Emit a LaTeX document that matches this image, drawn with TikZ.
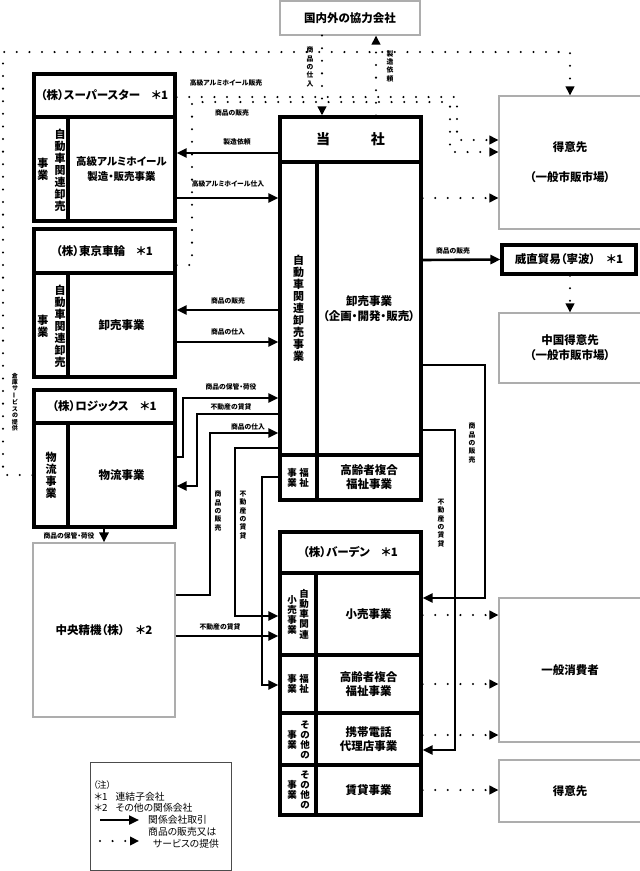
\documentclass[tikz,border=0pt]{standalone}
\usepackage{graphicx}
\usepackage{fontspec}
\setmainfont{Noto Sans CJK JP}[RawFeature=+palt]
\usetikzlibrary{arrows.meta}
\newcommand\mainf{\fontsize{11.5}{14}\selectfont\bfseries}
\newcommand\midf{\fontsize{10.5}{14.5}\selectfont\bfseries}
\newcommand\bigf{\fontsize{14}{16}\selectfont\bfseries}
\newcommand\vtf{\fontsize{11}{12}\selectfont\bfseries}
\newcommand\svtf{\fontsize{9.5}{10.2}\selectfont\bfseries}
\newcommand\lblf{\fontsize{6.8}{8}\selectfont\bfseries}
\newcommand\vlblf{\fontsize{6.8}{8.3}\selectfont\bfseries}
\newcommand\tinyvf{\fontsize{6}{6.4}\selectfont\bfseries}
\newcommand\legf{\fontsize{9.8}{12}\selectfont}
\begin{document}
\begin{tikzpicture}[x=1pt,y=-1pt,
  tbox/.style={draw=black, line width=3.2pt, inner sep=0pt, align=center, font=\mainf},
  gbox/.style={draw=black!32, line width=1.1pt, inner sep=0pt, align=center, font=\mainf},
  conn/.style={draw=black, line width=2.6pt, -{Triangle[length=10pt,width=9pt]}},
  dconn/.style={draw=black, line width=2.3pt, line cap=round, dash pattern=on 0pt off 12.6pt, -{Triangle[length=9pt,width=8.5pt]}},
  lbl/.style={font=\lblf, inner sep=0pt},
  vlbl/.style={font=\vlblf, inner sep=0pt, align=center},
  vt/.style={font=\vtf, inner sep=0pt, align=center},
  svt/.style={font=\svtf, inner sep=0pt, align=center},
  legt/.style={font=\legf, inner sep=0pt, anchor=west},
]
\useasboundingbox (0,0) rectangle (640,871);

% ---------- boxes ----------
\node[gbox, minimum width=140pt, minimum height=34pt] (kyoryoku) at (350,18) {国内外の協力会社};

% Super Star
\node[tbox, minimum width=141pt, minimum height=43pt] (ss_h) at (104.5,95.5) {（株）スーパースター　＊1};
\node[tbox, minimum width=34pt, minimum height=104pt] (ss_l) at (51,169) {};
\node[tbox, minimum width=107pt, minimum height=104pt, font=\midf] (ss_r) at (121.5,169) {高級アルミホイール\\製造・販売事業};
\node[vt] (ss_l1) at (60,170) {自\\動\\車\\関\\連\\卸\\売};
\node[vt] (ss_l2) at (43,169) {事\\業};

% Tokyo Sharin
\node[tbox, minimum width=141pt, minimum height=44pt] (tk_h) at (104.5,251) {（株）東京車輪　＊1};
\node[tbox, minimum width=34pt, minimum height=104pt] (tk_l) at (51,325) {};
\node[tbox, minimum width=107pt, minimum height=104pt] (tk_r) at (121.5,325) {卸売事業};
\node[vt] (tk_l1) at (60,326) {自\\動\\車\\関\\連\\卸\\売};
\node[vt] (tk_l2) at (43,326) {事\\業};

% Logics
\node[tbox, minimum width=141pt, minimum height=33pt] (lg_h) at (104.5,406.5) {（株）ロジックス　＊1};
\node[tbox, minimum width=34pt, minimum height=104pt, font=\vtf] (lg_l) at (51,475) {物\\流\\事\\業};
\node[tbox, minimum width=107pt, minimum height=104pt] (lg_r) at (121.5,475) {物流事業};

% Chuo Seiki
\node[gbox, minimum width=142pt, minimum height=174pt] (chuo) at (104,630) {中央精機（株）　＊2};

% Tousha
\node[tbox, minimum width=141pt, minimum height=45pt, font=\bigf] (ts_h) at (350.5,139.5) {当\hspace{41pt}社};
\node[tbox, minimum width=37pt, minimum height=293pt, font=\vtf] (ts_l) at (298.5,308.5) {自\\動\\車\\関\\連\\卸\\売\\事\\業};
\node[tbox, minimum width=104pt, minimum height=293pt] (ts_r) at (369,308.5) {卸売事業\\[1pt]（企画・開発・販売）};
\node[tbox, minimum width=37pt, minimum height=45pt] (ts_fl) at (298.5,477.5) {};
\node[tbox, minimum width=104pt, minimum height=45pt] (ts_fr) at (369,477.5) {高齢者複合\\福祉事業};
\node[svt] (ts_fl1) at (304,478) {福\\祉};
\node[svt] (ts_fl2) at (292,478) {事\\業};

% Baden
\node[tbox, minimum width=141pt, minimum height=41pt] (bd_h) at (350.5,552.5) {（株）バーデン　＊1};
\node[tbox, minimum width=36pt, minimum height=82pt] (bd1l) at (298,614) {};
\node[tbox, minimum width=105pt, minimum height=82pt] (bd1r) at (368.5,614) {小売事業};
\node[tbox, minimum width=36pt, minimum height=58pt] (bd2l) at (298,684) {};
\node[tbox, minimum width=105pt, minimum height=58pt] (bd2r) at (368.5,684) {高齢者複合\\福祉事業};
\node[tbox, minimum width=36pt, minimum height=52pt] (bd3l) at (298,739) {};
\node[tbox, minimum width=105pt, minimum height=52pt] (bd3r) at (368.5,739) {携帯電話\\代理店事業};
\node[tbox, minimum width=36pt, minimum height=50pt] (bd4l) at (298,790) {};
\node[tbox, minimum width=105pt, minimum height=50pt] (bd4r) at (368.5,790) {賃貸事業};
\node[svt] (bd1l1) at (304,614) {自\\動\\車\\関\\連};
\node[svt] (bd1l2) at (292,615) {小\\売\\事\\業};
\node[svt] (bd2l1) at (304,684) {福\\祉};
\node[svt] (bd2l2) at (292,684) {事\\業};
\node[svt] (bd3l1) at (305,740) {そ\\の\\他\\の};
\node[svt] (bd3l2) at (292,740) {事\\業};
\node[svt] (bd4l1) at (305,790) {そ\\の\\他\\の};
\node[svt] (bd4l2) at (292,790) {事\\業};

% Right side
\node[gbox, minimum width=142pt, minimum height=133pt] (tok1) at (570,162.5) {得意先\\[16pt]（一般市販市場）};
\node[tbox, minimum width=134pt, minimum height=29pt] (ichoku) at (569,259.5) {威直貿易（寧波）　＊1};
\node[gbox, minimum width=142pt, minimum height=70pt] (china) at (570,348) {中国得意先\\[1pt]（一般市販市場）};
\node[gbox, minimum width=142pt, minimum height=144pt] (consumer) at (570,670) {一般消費者};
\node[gbox, minimum width=142pt, minimum height=62pt] (tok2) at (570,791) {得意先};

% ---------- dotted connectors ----------
\draw[dconn] (lg_l.west) -- (3,475) -- (3,52) -- (570,52) -- (tok1.north);
\node[font=\tinyvf, inner sep=0pt, align=center] (souko) at (15,402) {倉\\庫\\サ\\\rotatebox[origin=c]{90}{ー}\\ビ\\ス\\の\\提\\供};
\draw[dconn] (kyoryoku.south -| 322,0) -- (ts_h.north -| 322,0);
\node[vlbl] (l_shiire0) at (310,67) {商\\品\\の\\仕\\入};
\draw[dconn] (ts_h.north -| 376,0) -- (kyoryoku.south -| 376,0);
\node[vlbl] (l_seizo0) at (390,66) {製\\造\\依\\頼};
\draw[dconn] (ss_h.east |- 0,97) -- (457,97) -- (457,140) -- (tok1.west |- 0,140);
\node[lbl] (l_alsale) at (226,83) {高級アルミホイール販売};
\draw[dconn] (tk_h.east |- 0,265) -- (192,265) -- (192,102) -- (450,102) -- (450,152) -- (tok1.west |- 0,152);
\node[lbl] (l_tksale) at (232,113) {商品の販売};
\draw[dconn] (ts_r.east |- 0,198) -- (tok1.west |- 0,198);
\draw[dconn] (ichoku.south -| 570,0) -- (china.north);
\draw[dconn] (bd1r.east |- 0,615) -- (consumer.west |- 0,615);
\draw[dconn] (bd2r.east) -- (consumer.west |- 0,684);
\draw[dconn] (bd3r.east |- 0,735) -- (consumer.west |- 0,735);
\draw[dconn] (bd4r.east) -- (tok2.west |- 0,790);

% ---------- solid connectors ----------
\draw[conn] (ts_h.west |- 0,153) -- (ss_r.east |- 0,153);
\node[lbl] (l_seizo) at (237,142) {製造依頼};
\draw[conn] (ss_r.east |- 0,198) -- (ts_l.west |- 0,198);
\node[lbl] (l_alshiire) at (228,184) {高級アルミホイール仕入};
\draw[conn] (ts_l.west |- 0,310) -- (tk_r.east |- 0,310);
\node[lbl] (l_hanbai1) at (228,301) {商品の販売};
\draw[conn] (tk_r.east |- 0,342) -- (ts_l.west |- 0,342);
\node[lbl] (l_shiire1) at (228,332) {商品の仕入};
\draw[conn] (lg_r.east |- 0,457) -- (183,457) -- (183,398) -- (ts_l.west |- 0,398);
\node[lbl] (l_hokan1) at (231,387) {商品の保管・荷役};
\draw[conn] (ts_l.west |- 0,414) -- (197,414) -- (197,486) -- (lg_r.east |- 0,486);
\node[lbl] (l_fudo1) at (231,407) {不動産の賃貸};
\draw[conn] (chuo.east |- 0,595) -- (210,595) -- (210,433) -- (ts_l.west |- 0,433);
\node[lbl] (l_shiire2) at (248,427) {商品の仕入};
\node[vlbl] (l_hanbai2) at (218,511) {商\\品\\の\\販\\売};
\draw[conn] (ts_l.west |- 0,448) -- (235,448) -- (235,616) -- (bd1l.west |- 0,616);
\node[vlbl] (l_fudo2) at (243,515) {不\\動\\産\\の\\賃\\貸};
\draw[conn] (chuo.east |- 0,636) -- (bd1l.west |- 0,636);
\node[lbl] (l_fudo3) at (220,627) {不動産の賃貸};
\draw[conn] (ts_fl.west |- 0,477) -- (262,477) -- (262,685) -- (bd2l.west |- 0,685);
\draw[conn] (ts_r.east |- 0,365) -- (485,365) -- (485,598) -- (bd1r.east |- 0,598);
\node[vlbl] (l_hanbai3) at (472,443) {商\\品\\の\\販\\売};
\draw[conn] (ts_r.east |- 0,430) -- (455,430) -- (455,750) -- (bd3r.east |- 0,750);
\node[vlbl] (l_fudo4) at (441,523) {不\\動\\産\\の\\賃\\貸};
\draw[conn] (ts_r.east |- 0,260) -- (ichoku.west);
\node[lbl] (l_hanbai4) at (453,251) {商品の販売};
\draw[conn] (lg_r.south -| 104,0) -- (chuo.north -| 104,0);
\node[lbl] (l_hokan2) at (69,536) {商品の保管・荷役};

% ---------- legend ----------
\node[draw=black!70, line width=1pt, minimum width=141pt, minimum height=108pt, inner sep=0pt] (legend) at (160.5,816) {};
\node[legt, font=\fontsize{9}{11}\selectfont] (lg0) at (93,785) {（注）};
\node[legt] (lg1) at (94,797) {＊1\hspace{8pt}連結子会社};
\node[legt] (lg2) at (94,808) {＊2\hspace{8pt}その他の関係会社};
\coordinate (la1) at (100,820);
\coordinate (la2) at (139,820);
\draw[conn, line width=2.3pt] (la1) -- (la2);
\node[legt] (lg3) at (148,820) {関係会社取引};
\node[legt] (lg4) at (148,832) {商品の販売又は};
\coordinate (lb1) at (100,841);
\coordinate (lb2) at (139,841);
\draw[dconn] (lb1) -- (lb2);
\node[legt] (lg5) at (153,844) {サービスの提供};
\end{tikzpicture}
\end{document}
